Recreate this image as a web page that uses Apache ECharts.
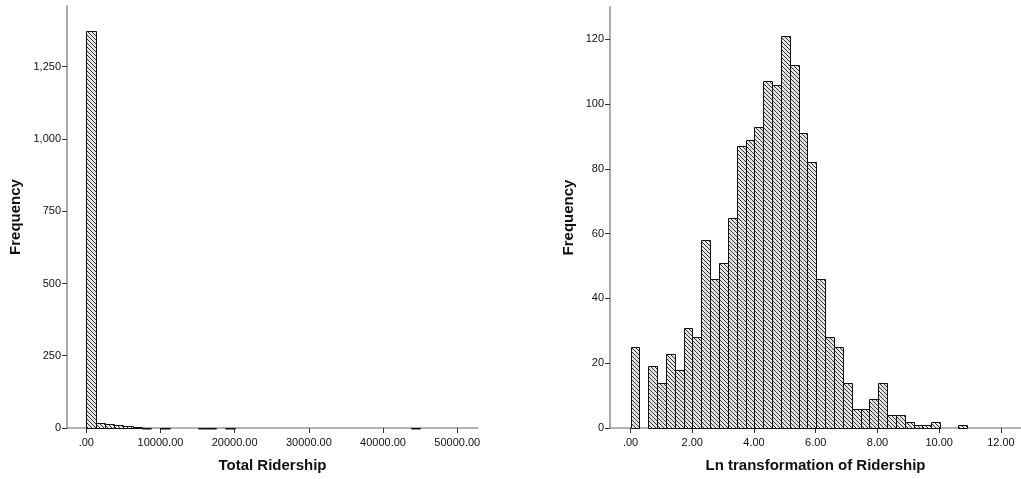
<!DOCTYPE html>
<html>
<head>
<meta charset="utf-8">
<script src="https://cdn.jsdelivr.net/npm/echarts@6/dist/echarts.min.js"></script>
<style>
html,body{margin:0;padding:0;background:#fff;}
#c{width:1021px;height:479px;}
</style>
</head>
<body>
<div id="c"></div>
<script>
// ---- Data ----
const leftBinWidth = 1250;
const leftCounts = [1375,17,13,10,7,3,1,0,1,0,0,0,1,1,0,1,0,0,0,0,0,0,0,0,0,0,0,0,0,0,0,0,0,0,0,1];
const leftXTicks = [0,10000,20000,30000,40000,50000];
const leftYTicks = [0,250,500,750,1000,1250];

const rightBinWidth = 0.2866;
const rightCounts = [25,0,19,14,23,18,31,28,58,46,51,65,87,89,93,107,106,121,112,91,82,46,28,25,14,6,6,9,14,4,4,2,1,1,2,0,0,1];
const rightXTicks = [0,2,4,6,8,10,12];
const rightYTicks = [0,20,40,60,80,100,120];

const leftXTitle = 'Total Ridership';
const rightXTitle = 'Ln transformation of Ridership';
const yTitle = 'Frequency';

// ---- Build bins ----
function bins(counts, w){
  const out = [];
  counts.forEach((c,i)=>{ if(c>0) out.push([i*w,(i+1)*w,c]); });
  return out;
}

// hatch pattern
const pc = document.createElement('canvas');
pc.width = 4; pc.height = 4;
const g = pc.getContext('2d');
g.fillStyle = '#e4e4e4';
g.fillRect(0,0,4,4);
g.fillStyle = '#333';
for(let i=0;i<4;i++){ g.fillRect(i,i,1,1); }
const pattern = {image: pc, repeat: 'repeat'};

function renderItem(params, api){
  const p0 = api.coord([api.value(0), api.value(2)]);
  const p1 = api.coord([api.value(1), 0]);
  const x0 = Math.round(p0[0]) + 0.5, x1 = Math.round(p1[0]) + 0.5;
  const y0 = Math.round(p0[1]) + 0.5, y1 = Math.round(p1[1]) + 0.5;
  return {
    type:'rect',
    shape:{x:x0, y:y0, width:x1-x0, height:Math.max(y1-y0,0.5)},
    style:{fill:pattern, stroke:'#111', lineWidth:1}
  };
}

const font = "'Liberation Sans', Arial, sans-serif";
const labelStyle = {fontFamily:font, fontSize:11, color:'#111'};
const titleStyle = {fontFamily:font, fontSize:15, fontWeight:'bold', color:'#111'};

function xAxis(idx, min, max, ticks, fmt, name){
  return {
    type:'value', gridIndex:idx, min:min, max:max,
    name:name, nameLocation:'middle', nameGap:30, nameTextStyle:titleStyle,
    axisLine:{show:true, onZero:false, lineStyle:{color:'#999', width:1.5}},
    axisTick:{show:true, customValues:ticks, length:5, lineStyle:{color:'#333'}},
    axisLabel:Object.assign({customValues:ticks, formatter:fmt, margin:9}, labelStyle),
    splitLine:{show:false}
  };
}
function yAxis(idx, max, ticks, gap){
  return {
    type:'value', gridIndex:idx, min:0, max:max,
    name:yTitle, nameLocation:'middle', nameGap:gap, nameRotate:90, nameTextStyle:titleStyle,
    axisLine:{show:true, onZero:false, lineStyle:{color:'#aaa', width:2}},
    axisTick:{show:true, customValues:ticks, length:5, lineStyle:{color:'#333'}},
    axisLabel:Object.assign({customValues:ticks, margin:6,
      formatter:v=>v.toLocaleString('en-US')}, labelStyle),
    splitLine:{show:false}
  };
}

const chart = echarts.init(document.getElementById('c'), null, {renderer:'canvas'});
chart.setOption({
  animation:false,
  backgroundColor:'#fff',
  grid:[
    {left:67, top:6, width:411, bottom:51},
    {left:610, top:7, right:-7, bottom:51}
  ],
  xAxis:[
    xAxis(0, -2600, 52800, leftXTicks, v=> v===0 ? '.00' : v.toFixed(2), leftXTitle),
    xAxis(1, -0.665, 12.65, rightXTicks, v=> v===0 ? '.00' : v.toFixed(2), rightXTitle)
  ],
  yAxis:[
    yAxis(0, 1460, leftYTicks, 44),
    yAxis(1, 130, rightYTicks, 34)
  ],
  series:[
    {type:'custom', xAxisIndex:0, yAxisIndex:0, renderItem:renderItem,
     encode:{x:[0,1], y:2}, data:bins(leftCounts, leftBinWidth), clip:false},
    {type:'custom', xAxisIndex:1, yAxisIndex:1, renderItem:renderItem,
     encode:{x:[0,1], y:2}, data:bins(rightCounts, rightBinWidth), clip:false}
  ]
});
</script>
</body>
</html>
